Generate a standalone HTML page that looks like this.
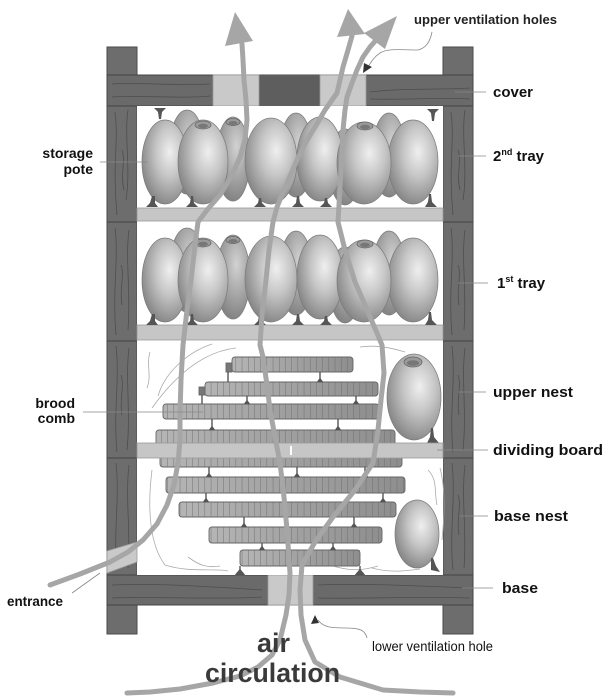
<!DOCTYPE html>
<html><head><meta charset="utf-8"><style>
html,body{margin:0;padding:0;background:#fff;}
svg{display:block;}
text{font-family:"Liberation Sans",Arial,sans-serif;}
</style></head><body>
<svg width="605" height="696" viewBox="0 0 605 696" xmlns="http://www.w3.org/2000/svg">
<defs>
<radialGradient id="pg" cx="0.6" cy="0.38" r="0.65">
<stop offset="0" stop-color="#efefef"/><stop offset="0.45" stop-color="#c6c6c6"/><stop offset="1" stop-color="#868686"/>
</radialGradient>
<radialGradient id="pgb" cx="0.6" cy="0.35" r="0.65">
<stop offset="0" stop-color="#d2d2d2"/><stop offset="1" stop-color="#848484"/>
</radialGradient>
<linearGradient id="cg" x1="0" y1="0" x2="1" y2="0">
<stop offset="0" stop-color="#b5b5b5"/><stop offset="1" stop-color="#8e8e8e"/>
</linearGradient>
<pattern id="cl" width="6.2" height="8" patternUnits="userSpaceOnUse">
<path d="M0 0V8" stroke="#6a6a6a" stroke-width="0.9"/>
</pattern>
<g id="tray">
<ellipse cx="187" cy="270" rx="18" ry="42" fill="url(#pgb)" stroke="#7a7a7a" stroke-width="0.7"/>
<ellipse cx="233" cy="277" rx="17" ry="42" fill="url(#pgb)" stroke="#7a7a7a" stroke-width="0.7"/>
<ellipse cx="233" cy="240" rx="7" ry="3.5" fill="#9a9a9a" stroke="#666" stroke-width="0.8"/>
<ellipse cx="233" cy="241" rx="4.5" ry="2" fill="#777"/>
<ellipse cx="296" cy="273" rx="17" ry="42" fill="url(#pgb)" stroke="#7a7a7a" stroke-width="0.7"/>
<ellipse cx="345" cy="285" rx="16" ry="38" fill="url(#pgb)" stroke="#7a7a7a" stroke-width="0.7"/>
<ellipse cx="389" cy="273" rx="17" ry="42" fill="url(#pgb)" stroke="#7a7a7a" stroke-width="0.7"/>
<ellipse cx="165" cy="280" rx="23" ry="42" fill="url(#pg)" stroke="#7a7a7a" stroke-width="0.7"/>
<ellipse cx="203" cy="280" rx="25" ry="42" fill="url(#pg)" stroke="#7a7a7a" stroke-width="0.7"/>
<ellipse cx="203" cy="243" rx="8" ry="4" fill="#9a9a9a" stroke="#666" stroke-width="0.8"/>
<ellipse cx="203" cy="244" rx="5" ry="2.2" fill="#777"/>
<ellipse cx="271" cy="279" rx="26" ry="43" fill="url(#pg)" stroke="#7a7a7a" stroke-width="0.7"/>
<ellipse cx="320" cy="277" rx="23" ry="42" fill="url(#pg)" stroke="#7a7a7a" stroke-width="0.7"/>
<ellipse cx="413" cy="280" rx="25" ry="42" fill="url(#pg)" stroke="#7a7a7a" stroke-width="0.7"/>
<ellipse cx="364" cy="281" rx="27" ry="41" fill="url(#pg)" stroke="#7a7a7a" stroke-width="0.7"/>
<ellipse cx="365" cy="244" rx="8" ry="4" fill="#9a9a9a" stroke="#666" stroke-width="0.8"/>
<ellipse cx="365" cy="245" rx="5" ry="2.2" fill="#777"/>
<g fill="#555">
<path d="M152 314 L155 314 L155 321 L158 325 L146 325 L150 321 Z"/>
<path d="M191 314 L193 314 L194 321 L198 325 L186 325 L190 321 Z"/>
<path d="M259 316 L261 316 L262 321 L266 325 L254 325 L258 321 Z"/>
<path d="M297 314 L299 314 L300 321 L304 325 L292 325 L296 321 Z"/>
<path d="M325 316 L327 316 L328 321 L332 325 L320 325 L324 321 Z"/>
<path d="M429 312 L431 312 L432 320 L437 325 L425 325 L428 320 Z"/>
</g>
</g>
</defs>

<!-- posts -->
<rect x="107" y="47" width="30" height="587" fill="#6d6d6d" stroke="#4a4a4a" stroke-width="1"/>
<rect x="443" y="47" width="30" height="587" fill="#6d6d6d" stroke="#4a4a4a" stroke-width="1"/>
<g stroke="#444" stroke-width="1">
<path d="M107 222H137M443 222H473M107 341H137M443 341H473M107 458H137M443 458H473"/>
</g>
<g stroke="#4e4e4e" stroke-width="0.8" fill="none">
<path d="M115 112 C119 140 112 165 117 215"/><path d="M128 110 C124 135 131 170 126 200"/><path d="M122 150 C126 160 120 175 124 190"/>
<path d="M115 228 C119 260 112 290 116 335"/><path d="M129 230 C125 260 131 290 128 330"/><path d="M121 265 C125 275 119 290 122 305"/>
<path d="M116 346 C120 380 113 410 117 452"/><path d="M129 348 C125 380 131 410 127 450"/><path d="M121 375 C125 385 119 400 122 415"/>
<path d="M116 463 C120 500 113 530 117 570"/><path d="M129 465 C125 500 131 530 128 568"/>
<path d="M451 112 C455 140 448 165 453 215"/><path d="M465 110 C461 135 468 170 463 200"/><path d="M458 150 C462 160 456 175 460 190"/>
<path d="M451 228 C455 260 448 290 452 335"/><path d="M465 230 C461 260 467 290 464 330"/><path d="M458 265 C462 275 456 290 459 305"/>
<path d="M452 346 C456 380 449 410 453 452"/><path d="M465 348 C461 380 467 410 463 450"/><path d="M458 375 C462 385 456 400 459 415"/>
<path d="M452 463 C456 500 449 530 453 570"/><path d="M465 465 C461 500 467 530 464 568"/><path d="M458 495 C462 505 456 520 459 535"/>
</g>
<!-- cover -->
<rect x="107" y="75" width="366" height="31" fill="#6a6a6a" stroke="#444" stroke-width="1"/>
<rect x="259" y="75" width="61" height="31" fill="#5e5e5e"/>
<rect x="213" y="75" width="46" height="31" fill="#c9c9c9" stroke="#999" stroke-width="0.8"/>
<rect x="320" y="75" width="46" height="31" fill="#c9c9c9" stroke="#999" stroke-width="0.8"/>
<g stroke="#4e4e4e" stroke-width="0.8" fill="none">
<path d="M112 84 C140 82 170 86 210 84"/><path d="M112 97 C150 95 180 99 210 96"/>
<path d="M370 92 C400 88 440 90 470 88"/><path d="M370 99 C410 100 440 97 470 99"/>
</g>
<!-- base -->
<rect x="107" y="575" width="366" height="30" fill="#6a6a6a" stroke="#444" stroke-width="1"/>
<rect x="268" y="575" width="45" height="30" fill="#c9c9c9" stroke="#999" stroke-width="0.8"/>
<g stroke="#4e4e4e" stroke-width="0.8" fill="none">
<path d="M112 585 C150 583 200 586 262 590"/><path d="M112 598 C150 596 210 600 262 597"/>
<path d="M318 585 C360 583 420 586 470 588"/><path d="M318 598 C370 599 420 596 470 598"/>
</g>
<!-- interior -->
<rect x="137" y="106" width="306" height="469" fill="#fff"/>
<rect x="137" y="208" width="306" height="13" fill="#c6c6c6" stroke="#9a9a9a" stroke-width="0.8"/>
<rect x="137" y="325" width="306" height="15" fill="#c6c6c6" stroke="#9a9a9a" stroke-width="0.8"/>

<!-- trays -->
<use href="#tray"/>
<use href="#tray" transform="translate(0,-118)"/>
<g fill="#555">
<path d="M154 108 L166 108 L162 112 L161 119 L159 119 L158 112 Z"/>
<path d="M427 109 L439 109 L435 113 L434 121 L432 121 L431 113 Z"/>
</g>

<!-- wisps -->
<g stroke="#aaa" stroke-width="0.8" fill="none">
<path d="M150 352 C146 365 152 375 147 388"/>
<path d="M236 348 C200 352 172 380 152 408"/>
<path d="M212 344 C188 352 165 372 158 396"/>
<path d="M360 347 C380 344 398 350 405 352"/>
<path d="M152 470 C147 510 150 545 165 565 C190 573 215 568 228 571"/>
<path d="M188 557 C200 566 208 568 220 566"/>
<path d="M428 470 C438 480 434 492 437 505"/>
<path d="M440 468 C446 490 444 520 442 540"/>
<path d="M372 568 C390 573 405 571 420 569"/>
<path d="M330 565 C350 572 365 570 378 566"/>
</g>

<!-- combs -->
<g stroke="#666" stroke-width="0.9">
<rect x="232" y="357" width="121" height="15" rx="3" fill="url(#cg)"/>
<rect x="205" y="382" width="173" height="14" rx="3" fill="url(#cg)"/>
<rect x="163" y="404" width="216" height="15" rx="3" fill="url(#cg)"/>
<rect x="156" y="430" width="239" height="15" rx="3" fill="url(#cg)"/>
<rect x="160" y="455" width="242" height="12" rx="3" fill="url(#cg)"/>
<rect x="166" y="477" width="239" height="16" rx="3" fill="url(#cg)"/>
<rect x="179" y="502" width="217" height="15" rx="3" fill="url(#cg)"/>
<rect x="209" y="527" width="173" height="16" rx="3" fill="url(#cg)"/>
<rect x="240" y="550" width="120" height="16" rx="3" fill="url(#cg)"/>
<rect x="226" y="363" width="6" height="9" fill="#777"/>
<rect x="199" y="387" width="6" height="8" fill="#777"/>
</g>
<g fill="url(#cl)">
<rect x="232" y="357" width="121" height="15"/>
<rect x="205" y="382" width="173" height="14"/>
<rect x="163" y="404" width="216" height="15"/>
<rect x="156" y="430" width="239" height="15"/>
<rect x="160" y="455" width="242" height="12"/>
<rect x="166" y="477" width="239" height="16"/>
<rect x="179" y="502" width="217" height="15"/>
<rect x="209" y="527" width="173" height="16"/>
<rect x="240" y="550" width="120" height="16"/>
</g>
<g stroke="#555" stroke-width="1.4" fill="#555">
<path d="M320 372V382M228 372V382M202 395V404M247 396V404M356 396V404M212 419V430M338 419V430M209 467V477M297 467V477M365 467V477M206 493V502M383 493V502M244 517V527M354 517V527M262 543V550M333 543V550M240 566V575M360 566V575"/>
<path d="M317 382H323L320 378Z M244 404H250L247 400Z M353 404H359L356 400Z M209 430H215L212 426Z M335 430H341L338 426Z M206 477H212L209 473Z M294 477H300L297 473Z M362 477H368L365 473Z M203 502H209L206 498Z M380 502H386L383 498Z M241 527H247L244 523Z M351 527H357L354 523Z M259 550H265L262 546Z M330 550H336L333 546Z M235 575H245L240 569Z M355 575H365L360 569Z" stroke-width="0.5"/>
</g>

<!-- nest pots -->
<ellipse cx="414" cy="397" rx="27" ry="43" fill="url(#pg)" stroke="#7a7a7a" stroke-width="0.7"/>
<ellipse cx="413" cy="362" rx="9" ry="5" fill="#9a9a9a" stroke="#666" stroke-width="0.8"/>
<ellipse cx="413" cy="363" rx="6" ry="2.8" fill="#777"/>
<path d="M431 428 L433 428 L434 437 L439 443 L427 443 L430 437 Z" fill="#555"/>
<ellipse cx="417" cy="534" rx="22" ry="34" fill="url(#pg)" stroke="#7a7a7a" stroke-width="0.7"/>
<path d="M431 558 L433 558 L436 566 L440 572 L431 570 Z" fill="#555"/>

<!-- dividing board -->
<rect x="137" y="443" width="306" height="15" fill="#c6c6c6" stroke="#9a9a9a" stroke-width="0.8"/>
<rect x="290" y="446" width="2" height="9" fill="#fff"/>
<!-- entrance -->
<path d="M107 551 L137 542 L137 562 L107 573 Z" fill="#c9c9c9" stroke="#999" stroke-width="0.8"/>

<!-- air flow -->
<g stroke="#a6a6a6" stroke-width="5" fill="none" stroke-linejoin="round" stroke-linecap="round">
<polyline points="50,585 80,574 110,562 128,552 143,540 157,524 167,505 174,485 178,463 180,440 180,413 181,380 183,345 187,310 191,280 195,245 198,222 207,210 220,195 232,175 240,157 245,140 247,120 246,100 244,80 243,60 242,44"/>
<polyline points="352,36 348,50 343,67 337,93 325,110 318,122 306,142 297,160 286,185 277,207 273,222 269,250 266,280 262,315 260,345 263,357 267,385 270,410 275,437 280,463 284,497 287,530 290,573 289,595 286,615 280,640 272,655 258,667 240,676 213,683 180,689 150,692 127,693"/>
<polyline points="377,39 370,47 363,57 357,70 352,83 347,97 345,110 343,130 342,150 341,170 340,187 339,205 338,222 345,250 355,282 368,312 382,345 384,373 381,400 378,430 373,463 355,490 333,517 315,542 302,565 300,590 301,615 305,640 315,662 340,677 383,690 420,692 453,693"/>
</g>
<g fill="#a6a6a6">
<polygon points="235,12 225,46 253,41"/>
<polygon points="348,9 337,37 365,34"/>
<polygon points="397,16 364,33 385,49"/>
</g>

<!-- leader lines -->
<g stroke="#888" stroke-width="0.8" fill="none">
<path d="M455 92H486M458 156H486M458 283H488M458 392H486M437 450H488M460 516H488M462 588H493"/>
<path d="M100 162H148M83 412H203M72 593L100 573"/>
<path d="M432 32 C430 42 426 48 418 50 C400 50 388 48 380 53 C374 57 371 62 368 67"/>
<path d="M367 638 C365 630 360 628 345 628 C330 628 323 627 318 620"/>
</g>
<polygon points="363,73 364,63 372,67" fill="#333"/>
<polygon points="315,615 311,624 319,623" fill="#333"/>

<!-- labels -->
<g fill="#111" font-weight="bold" font-size="15">
<text x="493" y="97" textLength="40" lengthAdjust="spacingAndGlyphs">cover</text>
<text x="493" y="161">2<tspan font-size="9" dy="-6">nd</tspan><tspan dy="6"> tray</tspan></text>
<text x="497" y="288">1<tspan font-size="9" dy="-6">st</tspan><tspan dy="6"> tray</tspan></text>
<text x="493" y="397" textLength="80" lengthAdjust="spacingAndGlyphs">upper nest</text>
<text x="493" y="455" textLength="110" lengthAdjust="spacingAndGlyphs">dividing board</text>
<text x="494" y="521" textLength="74" lengthAdjust="spacingAndGlyphs">base nest</text>
<text x="502" y="593" textLength="36" lengthAdjust="spacingAndGlyphs">base</text>
<text x="93" y="158" text-anchor="end" font-size="14">storage</text>
<text x="93" y="174" text-anchor="end" font-size="14">pote</text>
<text x="75" y="408" text-anchor="end" font-size="14">brood</text>
<text x="75" y="423" text-anchor="end" font-size="14">comb</text>
<text x="7" y="606" font-size="14" textLength="56" lengthAdjust="spacingAndGlyphs">entrance</text>
<text x="414" y="24" font-size="12.5" fill="#222" textLength="143" lengthAdjust="spacingAndGlyphs">upper ventilation holes</text>
</g>
<text x="372" y="651" font-size="14" fill="#111" textLength="121" lengthAdjust="spacingAndGlyphs">lower ventilation hole</text>
<g fill="#3a3a3a" font-weight="bold" font-size="27">
<text x="257" y="652" textLength="33" lengthAdjust="spacingAndGlyphs">air</text>
<text x="205" y="682" textLength="135" lengthAdjust="spacingAndGlyphs">circulation</text>
</g>
</svg>
</body></html>
